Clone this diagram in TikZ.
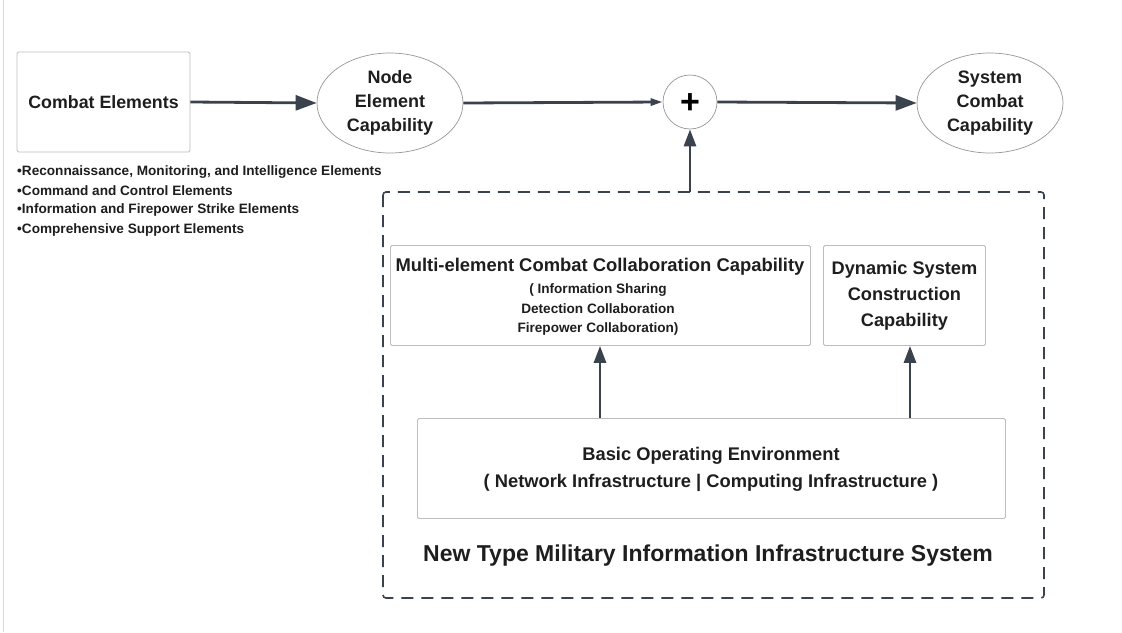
\documentclass[tikz,border=0pt]{standalone}
\usepackage{fontspec}
\setmainfont{Liberation Sans}
\usetikzlibrary{arrows.meta,shapes.geometric}
\definecolor{arr}{HTML}{3A424D}
\definecolor{bord}{HTML}{BDBDBD}
\definecolor{txt}{HTML}{1E1E1E}
\begin{document}
\begin{tikzpicture}[x=1pt,y=-1pt,
  box/.style={draw=bord,line width=0.9pt,rounded corners=1.5pt,align=center,font=\bfseries,text=txt,inner sep=0pt},
  ell/.style={draw=bord!80!black,line width=0.7pt,ellipse,inner sep=0pt,align=center,text=txt,font=\fontsize{18}{24}\selectfont\bfseries},
  bigarrow/.style={draw=arr,line width=2.8pt,-{Triangle[length=21pt,width=15pt]}},
  smallarrow/.style={draw=arr,line width=2.8pt,-{Triangle[length=12pt,width=7pt]}},
  uparrow/.style={draw=arr,line width=2.8pt,-{Triangle[length=17pt,width=12pt]}},
  bullet/.style={anchor=west,inner sep=0pt,text=txt,font=\fontsize{13.6}{15}\selectfont\bfseries}
]
\useasboundingbox (0,0) rectangle (1122,632);
\fill[white] (0,0) rectangle (1122,632);
\draw[gray!30,line width=0.8pt] (3,0) -- (3,632);

% top row
\node[box,minimum width=173pt,minimum height=100pt,font=\fontsize{17.8}{20}\selectfont\bfseries] (ce) at (103.5,102) {Combat Elements};
\node[ell,minimum width=146pt,minimum height=100pt] (nec) at (390,103) {Node\\Element\\Capability};
\node[draw=bord!80!black,line width=0.7pt,circle,minimum size=54pt,inner sep=0pt,font=\fontsize{34}{34}\selectfont\bfseries] (plus) at (690,102) {};
\node[inner sep=0pt,font=\fontsize{34}{34}\selectfont\bfseries,text=black] (plustxt) at (690,104) {+};
\node[ell,minimum width=146pt,minimum height=100pt] (scc) at (990,103) {System\\Combat\\Capability};

\draw[bigarrow] (ce.east) -- (nec.west);
\draw[smallarrow] (nec.east) -- (plus.west);
\draw[bigarrow] (plus.east) -- (scc.west);

% bullet list
\node[bullet] (b1) at (17,172) {•Reconnaissance, Monitoring, and Intelligence Elements};
\node[bullet] (b2) at (17,191) {•Command and Control Elements};
\node[bullet] (b3) at (17,210) {•Information and Firepower Strike Elements};
\node[bullet] (b4) at (17,230) {•Comprehensive Support Elements};

% dashed system box
\draw[arr,line width=1.6pt,dash pattern=on 12pt off 8pt,rounded corners=3pt] (383,192) rectangle (1044,598);
\coordinate (dtop) at (690,192);
\draw[uparrow] (dtop) -- (plus.south);

\node[box,minimum width=420pt,minimum height=100pt,anchor=north west] (mec) at (390,245) {};
\node[inner sep=0pt,align=center,text=txt,font=\fontsize{18.4}{20}\selectfont\bfseries] (mect) at (600,267) {Multi-element Combat Collaboration Capability};
\node[inner sep=0pt,align=center,text=txt,font=\fontsize{13.6}{19.5}\selectfont\bfseries] (mecs) at (598,309.5) {( Information Sharing\\Detection Collaboration\\Firepower Collaboration)};

\node[box,minimum width=162pt,minimum height=100pt,anchor=north west,font=\fontsize{18.2}{26}\selectfont\bfseries] (dsc) at (823,245) {Dynamic System\\Construction\\Capability};

\node[box,minimum width=588pt,minimum height=100pt,anchor=north west] (boe) at (417,418) {};
\node[inner sep=0pt,align=center,text=txt,font=\fontsize{18.3}{27}\selectfont\bfseries] (boet) at (711,469) {Basic Operating Environment\\( Network Infrastructure \textbar{} Computing Infrastructure )};

\draw[uparrow] (boe.north -| 600,0) -- (mec.south -| 600,0);
\draw[uparrow] (boe.north -| 910,0) -- (dsc.south -| 910,0);

\node[inner sep=0pt,text=txt,font=\fontsize{23}{26}\selectfont\bfseries] (title) at (708,556) {New Type Military Information Infrastructure System};
\end{tikzpicture}
\end{document}
